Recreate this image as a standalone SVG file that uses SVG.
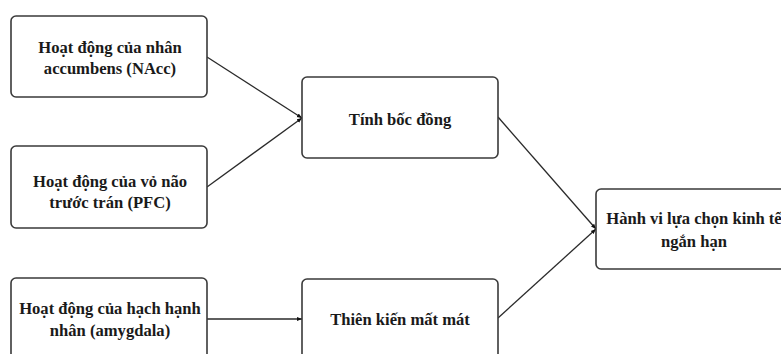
<svg xmlns="http://www.w3.org/2000/svg" width="781" height="354" viewBox="0 0 781 354">
<defs>
<style>
.box{fill:#fff;stroke:#3a3a3a;stroke-width:1.6}
.t{font-family:"Liberation Serif","Times New Roman",serif;font-weight:bold;font-size:16.6px;fill:#1a1a1a;text-anchor:middle}
.c{fill:none;stroke:#2a2a2a;stroke-width:1.3}
</style>
<marker id="ah" viewBox="0 0 10 10" refX="10" refY="5" markerWidth="4" markerHeight="4" orient="auto" markerUnits="strokeWidth">
<path d="M0,1 L10,5 L0,9 z" fill="#111"/>
</marker>
</defs>
<rect width="781" height="354" fill="#fff"/>
<g id="connectors">
<line class="c" x1="207" y1="57" x2="302" y2="118" marker-end="url(#ah)"/>
<line class="c" x1="207" y1="187" x2="302" y2="118" marker-end="url(#ah)"/>
<line class="c" x1="207" y1="319" x2="302" y2="319" marker-end="url(#ah)"/>
<line class="c" x1="498" y1="117" x2="596" y2="229" marker-end="url(#ah)"/>
<line class="c" x1="498" y1="318" x2="596" y2="229" marker-end="url(#ah)"/>
</g>
<g id="nacc">
<rect class="box" x="11" y="16" width="196" height="81" rx="5"/>
<text class="t" x="110" y="53">Hoạt động của nhân</text>
<text class="t" x="110" y="74">accumbens (NAcc)</text>
</g>
<g id="pfc">
<rect class="box" x="11" y="146" width="196" height="82" rx="5"/>
<text class="t" x="110" y="187">Hoạt động của vỏ não</text>
<text class="t" x="110" y="208">trước trán (PFC)</text>
</g>
<g id="amygdala">
<rect class="box" x="11" y="278" width="196" height="90" rx="5"/>
<text class="t" x="110" y="314">Hoạt động của hạch hạnh</text>
<text class="t" x="110" y="336">nhân (amygdala)</text>
</g>
<g id="impulsivity">
<rect class="box" x="302" y="77" width="196" height="81" rx="5"/>
<text class="t" x="400" y="125">Tính bốc đồng</text>
</g>
<g id="lossaversion">
<rect class="box" x="302" y="279" width="196" height="90" rx="5"/>
<text class="t" x="400" y="325">Thiên kiến mất mát</text>
</g>
<g id="behavior">
<rect class="box" x="596" y="189" width="196" height="80" rx="5"/>
<text class="t" x="694" y="224">Hành vi lựa chọn kinh tế</text>
<text class="t" x="694" y="247">ngắn hạn</text>
</g>
</svg>
